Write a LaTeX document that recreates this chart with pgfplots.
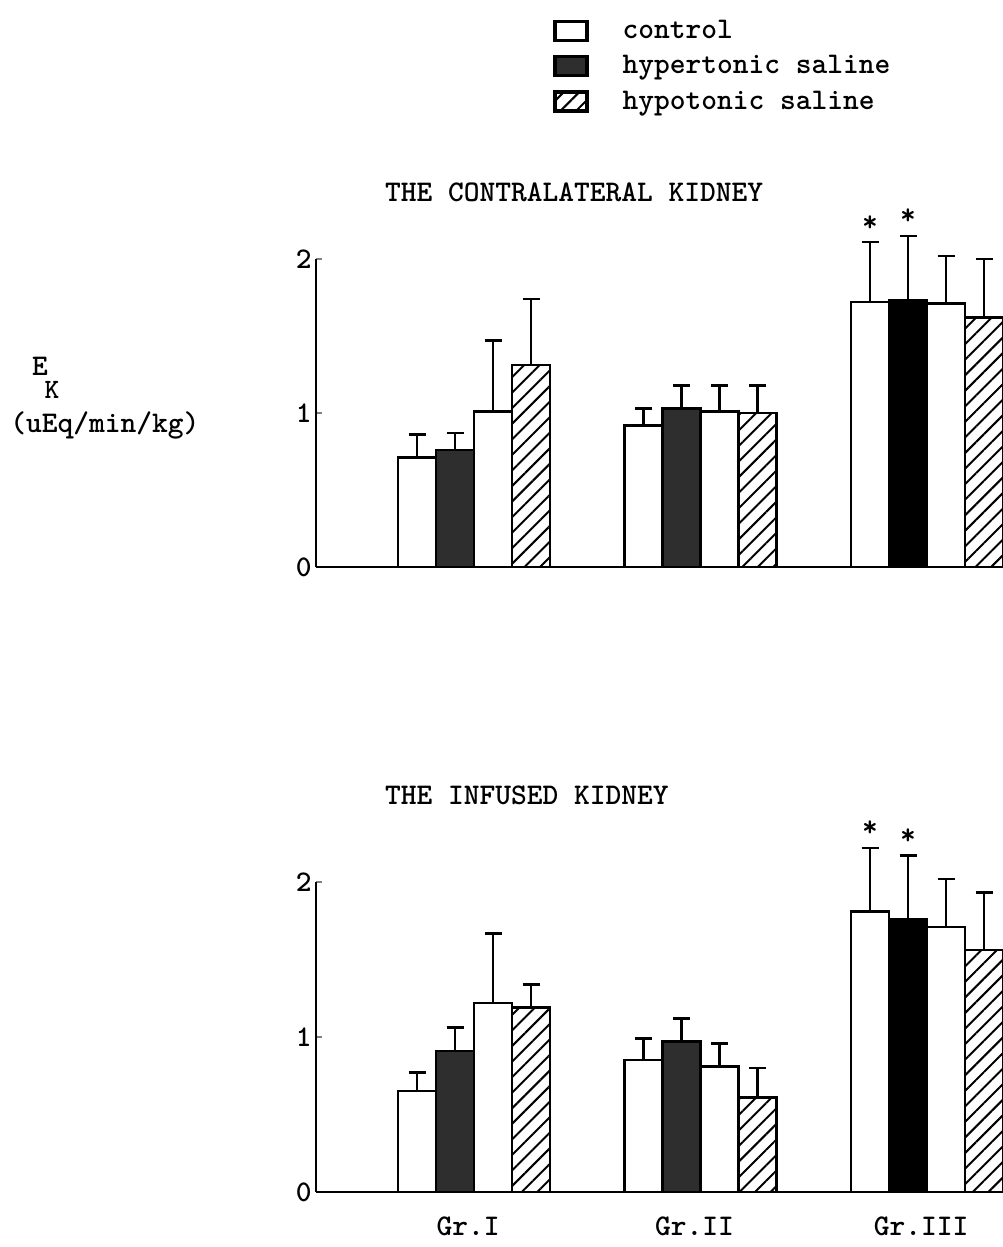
\documentclass[border=0pt]{standalone}
\usepackage{pgfplots}
\pgfplotsset{compat=1.18}
\usetikzlibrary{patterns.meta}
\renewcommand{\familydefault}{\ttdefault}
\renewcommand{\seriesdefault}{b}

\newcommand{\tw}{\fontsize{15}{17}\selectfont}

% Bars sit at explicit x positions: group centre -/+ 0.2517 and -/+ 0.0839,
% each 0.1678 axis units (19pt) wide.
\pgfplotsset{
  kidney/.style={
    scale only axis, width=343pt,
    xmin=0.3024, xmax=3.331, ymin=0, ymax=2,
    axis lines*=left,
    axis line style={line width=1.2pt},
    ytick={0,1,2}, tick align=inside, major tick length=3pt,
    xtick style={draw=none}, ytick style={line width=1.2pt},
    clip=false,
    /pgf/number format/assume math mode=true,
    tick label style={font=\tw},
    yticklabel style={inner sep=2pt},
  },
  bar/.style={ybar, bar width=19pt, bar shift=0pt, line width=1.2pt, draw=black,
    legend image code/.code={\draw[##1, line width=1.6pt] (0pt,-4.75pt) rectangle (16pt,4.75pt);},
    error bars/y dir=plus, error bars/y explicit,
    error bars/error bar style={line width=1.2pt, solid, draw=black},
    error bars/error mark options={rotate=90, line width=1.4pt, mark size=4.25pt, draw=black}},
  ctrl/.style={bar, fill=white},
  hyper/.style={bar, fill=black!82},
  hyperIII/.style={bar, fill=black},
  hypo/.style={bar, fill=white, postaction={pattern={Lines[angle=45,distance=5.5pt,line width=1pt]}}},
}

\begin{document}
\begin{tikzpicture}
\useasboundingbox (0,0) rectangle (501pt,-623.5pt);

% ---------- contralateral kidney ----------
\begin{axis}[kidney, height=154pt,
  at={(158pt,-283.5pt)}, anchor=south west,
  xtick=\empty,
  legend style={draw=none, fill=none, at={(0.3455,1.79)}, anchor=north west,
    inner sep=0pt, font=\tw, row sep=3pt, cells={anchor=west},
    /tikz/every odd column/.append style={column sep=15pt}},
]
\addplot[ctrl] coordinates
  {(0.7483,0.71) +- (0,0.15) (1.7483,0.92) +- (0,0.11) (2.7483,1.72) +- (0,0.39)};
\addlegendentry{control}
\addplot[hyper] coordinates
  {(0.9161,0.76) +- (0,0.11) (1.9161,1.03) +- (0,0.15)};
\addlegendentry{hypertonic saline}
\addplot[hypo] coordinates
  {(1.2517,1.31) +- (0,0.43) (2.2517,1.00) +- (0,0.18) (3.2517,1.62) +- (0,0.38)};
\addlegendentry{hypotonic saline}
\addplot[hyperIII, forget plot] coordinates
  {(2.9161,1.73) +- (0,0.42)};
\addplot[ctrl, forget plot] coordinates
  {(1.0839,1.01) +- (0,0.46) (2.0839,1.01) +- (0,0.17) (3.0839,1.71) +- (0,0.31)};
\node[font=\tw, anchor=south] at ([yshift=2pt]axis cs:2.7483,2.11) {*};
\node[font=\tw, anchor=south] at ([yshift=2pt]axis cs:2.9161,2.15) {*};
\end{axis}

% ---------- infused kidney ----------
\begin{axis}[kidney, height=155pt,
  at={(158pt,-596pt)}, anchor=south west,
  xtick={1,2,3}, xticklabels={Gr.I, Gr.II, Gr.III},
  xticklabel style={yshift=-9pt, xshift=-3pt},
]
\addplot[ctrl] coordinates
  {(0.7483,0.65) +- (0,0.12) (1.7483,0.85) +- (0,0.14) (2.7483,1.81) +- (0,0.41)};
\addplot[hyper] coordinates
  {(0.9161,0.91) +- (0,0.15) (1.9161,0.97) +- (0,0.15)};
\addplot[hyperIII] coordinates
  {(2.9161,1.76) +- (0,0.41)};
\addplot[ctrl] coordinates
  {(1.0839,1.22) +- (0,0.45) (2.0839,0.81) +- (0,0.15) (3.0839,1.71) +- (0,0.31)};
\addplot[hypo] coordinates
  {(1.2517,1.19) +- (0,0.15) (2.2517,0.61) +- (0,0.19) (3.2517,1.56) +- (0,0.37)};
\node[font=\tw, anchor=south] at ([yshift=2pt]axis cs:2.7483,2.22) {*};
\node[font=\tw, anchor=south] at ([yshift=2pt]axis cs:2.9161,2.17) {*};
\end{axis}

% panel titles and quantity label
\node[font=\tw, anchor=west] at (189pt,-96pt) {THE CONTRALATERAL KIDNEY};
\node[font=\tw, anchor=west] at (189pt,-397.5pt) {THE INFUSED KIDNEY};
\node[font=\tw, inner sep=0pt] at (20pt,-183pt) {E};
\node[font=\fontsize{14}{16}\selectfont, inner sep=0pt] at (26pt,-195pt) {K};
\node[font=\tw] at (52.5pt,-212.5pt) {(uEq/min/kg)};
\end{tikzpicture}
\end{document}
